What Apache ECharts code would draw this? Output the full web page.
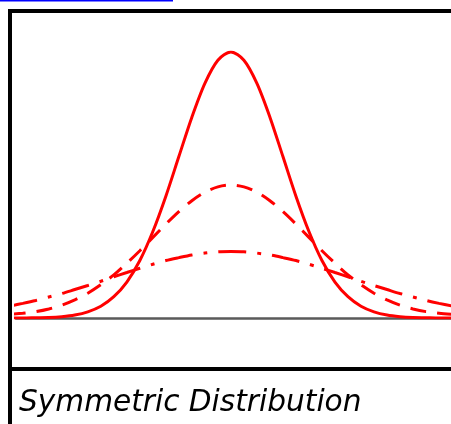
<!DOCTYPE html>
<html>
<head>
<meta charset="utf-8">
<title>Symmetric Distribution</title>
<script src="https://cdn.jsdelivr.net/npm/echarts@6/dist/echarts.min.js"></script>
<style>
  html, body { margin: 0; padding: 0; background: #fff; }
  #chart { width: 451px; height: 424px; }
</style>
</head>
<body>
<div id="chart"></div>
<script>
// Positions along the horizontal axis (in units of the narrow curve's spread)
const xs = [-4.25, -4, -3.75, -3.5, -3.25, -3, -2.75, -2.5, -2.25, -2, -1.75, -1.5, -1.25, -1, -0.75, -0.5, -0.25,
  0, 0.25, 0.5, 0.75, 1, 1.25, 1.5, 1.75, 2, 2.25, 2.5, 2.75, 3, 3.25, 3.5, 3.75, 4, 4.25];

// Tall, narrow curve (solid)
const narrowCurve = [0.000, 0.000, 0.001, 0.002, 0.005, 0.011, 0.023, 0.044, 0.080, 0.135, 0.216, 0.325, 0.458, 0.607, 0.755, 0.882, 0.969,
  1.000, 0.969, 0.882, 0.755, 0.607, 0.458, 0.325, 0.216, 0.135, 0.080, 0.044, 0.023, 0.011, 0.005, 0.002, 0.001, 0.000, 0.000];

// Medium curve (dashed)
const mediumCurve = [0.014, 0.018, 0.024, 0.034, 0.048, 0.068, 0.093, 0.125, 0.162, 0.206, 0.253, 0.303, 0.353, 0.400, 0.441, 0.473, 0.493,
  0.500, 0.493, 0.473, 0.441, 0.400, 0.353, 0.303, 0.253, 0.206, 0.162, 0.125, 0.093, 0.068, 0.048, 0.034, 0.024, 0.018, 0.014];

// Low, wide curve (dash-dot)
const wideCurve = [0.045, 0.055, 0.066, 0.079, 0.092, 0.107, 0.122, 0.138, 0.155, 0.171, 0.187, 0.202, 0.216, 0.227, 0.237, 0.244, 0.249,
  0.250, 0.249, 0.244, 0.237, 0.227, 0.216, 0.202, 0.187, 0.171, 0.155, 0.138, 0.122, 0.107, 0.092, 0.079, 0.066, 0.055, 0.045];

const caption = 'Symmetric Distribution';

const pairs = ys => xs.map((x, i) => [x, ys[i]]);

const chart = echarts.init(document.getElementById('chart'), null, { renderer: 'canvas' });

const curveStyle = (type) => ({ color: '#ff0000', width: 3, type: type });

chart.setOption({
  backgroundColor: '#ffffff',
  animation: false,
  grid: { left: 16, right: 0, top: 52, bottom: 106 },
  xAxis: {
    type: 'value',
    min: -4.13,
    max: 4.23,
    axisLine: { show: true, lineStyle: { color: '#5a5a5a', width: 2.5 } },
    axisTick: { show: false },
    axisLabel: { show: false },
    splitLine: { show: false }
  },
  yAxis: {
    type: 'value',
    min: 0,
    max: 1,
    show: false,
    splitLine: { show: false }
  },
  series: [
    {
      type: 'line', data: pairs(narrowCurve), smooth: 0.3, symbol: 'none',
      lineStyle: curveStyle('solid'), z: 3
    },
    {
      type: 'line', data: pairs(mediumCurve), smooth: 0.3, symbol: 'none',
      lineStyle: curveStyle([16, 11]), z: 3
    },
    {
      type: 'line', data: pairs(wideCurve), smooth: 0.3, symbol: 'none',
      lineStyle: curveStyle([28, 11, 4, 11]), z: 3
    }
  ],
  graphic: [
    // link underline along the top
    { type: 'rect', shape: { x: 0, y: 0, width: 173, height: 1.5 }, style: { fill: '#0000ff' }, silent: true },
    // frame: top edge, left edge, divider above the caption
    { type: 'rect', shape: { x: 8, y: 9, width: 443, height: 4 }, style: { fill: '#000' }, silent: true },
    { type: 'rect', shape: { x: 8, y: 9, width: 4, height: 415 }, style: { fill: '#000' }, silent: true },
    { type: 'rect', shape: { x: 8, y: 367, width: 443, height: 4 }, style: { fill: '#000' }, silent: true },
    {
      type: 'text', left: 19, top: 388, silent: true,
      style: {
        text: caption,
        fill: '#000',
        font: 'italic 29.6px "DejaVu Sans"'
      }
    }
  ]
});
</script>
</body>
</html>
